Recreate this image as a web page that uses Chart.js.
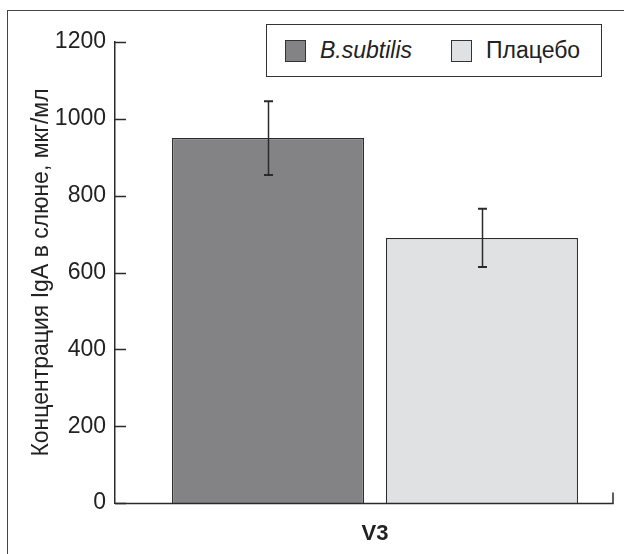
<!DOCTYPE html>
<html>
<head>
<meta charset="utf-8">
<script src="https://cdn.jsdelivr.net/npm/chart.js@4.4.0/dist/chart.umd.min.js"></script>
<style>
  html, body { margin: 0; padding: 0; background: #fff; overflow: hidden; }
  #wrap { position: relative; width: 624px; height: 554px; overflow: hidden; }
  #frame { position: absolute; left: 7px; top: 10px; width: 700px; height: 600px;
           border: 1.5px solid #444; box-sizing: border-box; }
  #box { position: absolute; left: 0; top: 0; width: 660px; height: 554px; }
  #legend { position: absolute; left: 266px; top: 24px; width: 336px; height: 53px;
            border: 1.5px solid #333; box-sizing: border-box; background: #fff;
            font-family: "Liberation Sans", Arial, sans-serif; font-size: 23px; color: #222; }
  .item { position: absolute; top: 12px; display: flex; align-items: center; }
  .sw { width: 21px; height: 22px; border: 1.2px solid #333; box-sizing: border-box; margin-right: 14px; }
</style>
</head>
<body>
<div id="wrap">
  <div id="frame"></div>
  <div id="box"><canvas id="chart"></canvas></div>
  <div id="legend"></div>
</div>
<script>
// data
const categories = ['V3'];
const seriesNames = ['B.subtilis', 'Плацебо'];
const subtilisValues = [950];
const subtilisErrors = [96];
const placeboValues = [690];
const placeboErrors = [76];
const yTicks = [0, 200, 400, 600, 800, 1000, 1200];
const yTitle = 'Концентрация IgA в слюне, мкг/мл';

const FONT = '"Liberation Sans", Arial, sans-serif';
const INK = '#2a2a2a';

// legend drawn as html box over the plot
const legendEl = document.getElementById('legend');
const swatchColors = ['#838385', '#e0e1e2'];
const legendX = [18, 184];
seriesNames.forEach((name, i) => {
    const it = document.createElement('div');
    it.className = 'item';
    it.style.left = legendX[i] + 'px';
    const sw = document.createElement('div');
    sw.className = 'sw';
    sw.style.background = swatchColors[i];
    const tx = document.createElement('span');
    tx.textContent = name;
    if (i === 0) tx.style.fontStyle = 'italic';
    it.appendChild(sw);
    it.appendChild(tx);
    legendEl.appendChild(it);
});

// inward ticks, baseline and error bars
const decor = {
    id: 'decor',
    afterDatasetsDraw(chart) {
        const ctx = chart.ctx;
        const y = chart.scales.y;
        const area = chart.chartArea;
        ctx.save();
        ctx.strokeStyle = INK;
        ctx.lineWidth = 1.5;
        yTicks.forEach(v => {
            const py = Math.round(y.getPixelForValue(v)) + 0.5;
            ctx.beginPath();
            ctx.moveTo(area.left, py);
            ctx.lineTo(area.left + 11, py);
            ctx.stroke();
        });
        const base = Math.round(y.getPixelForValue(0)) + 0.5;
        ctx.beginPath();
        ctx.moveTo(area.left, base);
        ctx.lineTo(613, base);
        ctx.lineTo(613, base - 11);
        ctx.stroke();

        const errs = [subtilisErrors, placeboErrors];
        chart.data.datasets.forEach((ds, i) => {
            chart.getDatasetMeta(i).data.forEach((bar, j) => {
                const v = ds.data[j];
                const top = y.getPixelForValue(v + errs[i][j]);
                const bot = y.getPixelForValue(v - errs[i][j]);
                const x = Math.round(bar.x) + 0.5;
                ctx.lineWidth = 1.5;
                ctx.beginPath();
                ctx.moveTo(x, top);
                ctx.lineTo(x, bot);
                ctx.stroke();
                ctx.lineWidth = 2;
                ctx.beginPath();
                ctx.moveTo(x - 4.5, top);
                ctx.lineTo(x + 4.5, top);
                ctx.moveTo(x - 4.5, bot);
                ctx.lineTo(x + 4.5, bot);
                ctx.stroke();
            });
        });
        ctx.restore();
    }
};

new Chart(document.getElementById('chart'), {
    type: 'bar',
    data: {
        labels: categories,
        datasets: [{
            label: seriesNames[0],
            data: subtilisValues,
            backgroundColor: swatchColors[0],
            borderColor: INK,
            borderWidth: 1.2
        }, {
            label: seriesNames[1],
            data: placeboValues,
            backgroundColor: swatchColors[1],
            borderColor: INK,
            borderWidth: 1.2
        }]
    },
    options: {
        responsive: true,
        maintainAspectRatio: false,
        animation: false,
        categoryPercentage: 0.823,
        barPercentage: 0.897,
        layout: { padding: { top: 42, right: 25, left: 0, bottom: 0 } },
        plugins: {
            legend: { display: false },
            tooltip: { enabled: false }
        },
        scales: {
            x: {
                grid: { display: false, drawTicks: false },
                border: { display: false },
                ticks: {
                    padding: 18,
                    color: '#222',
                    font: { family: FONT, size: 22, weight: 'bold' }
                },
                afterFit(s) { s.height = 51; }
            },
            y: {
                min: 0,
                max: 1200,
                grid: { display: false, drawTicks: false },
                border: { display: true, color: INK, width: 1.5 },
                afterBuildTicks(s) { s.ticks = yTicks.map(v => ({ value: v })); },
                ticks: {
                    padding: 9,
                    color: '#222',
                    font: { family: FONT, size: 23 },
                    callback: v => String(v)
                },
                title: {
                    display: true,
                    text: yTitle,
                    color: '#222',
                    padding: { top: 28, bottom: 0 },
                    font: { family: FONT, size: 23 }
                },
                afterFit(s) { s.width = 115; }
            }
        }
    },
    plugins: [decor]
});
</script>
</body>
</html>
